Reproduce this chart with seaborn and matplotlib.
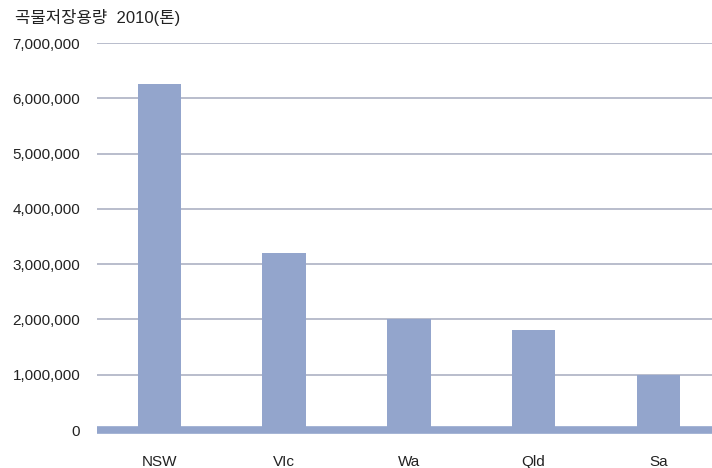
import matplotlib
matplotlib.use("Agg")
import matplotlib.pyplot as plt
import seaborn as sns
import pandas as pd
from matplotlib.ticker import FuncFormatter

categories = ["NSW", "VIc", "Wa", "Qld", "Sa"]
values = [6250000, 3200000, 2000000, 1800000, 1000000]
yticks = [0, 1000000, 2000000, 3000000, 4000000, 5000000, 6000000, 7000000]
title = "곡물저장용량  2010(톤)"

sns.set_style("white")
plt.rcParams['font.family'] = ['Liberation Sans', 'Noto Sans CJK KR', 'DejaVu Sans']

df = pd.DataFrame({"cat": categories, "val": values})
bar_color = "#93a5cc"

fig = plt.figure(figsize=(7.12, 4.68), dpi=100)
ax = fig.add_axes([97/712, 1 - 430/468, 1 - 97/712, (430 - 43)/468])

for y in yticks[1:]:
    ax.axhline(y, color="#b9bdcc", lw=1.4, zorder=0)

sns.barplot(data=df, x="cat", y="val", color=bar_color, width=0.35,
            saturation=1, ax=ax, zorder=2, linewidth=0)
ax.axhline(0, color=bar_color, lw=5.5, zorder=3, solid_capstyle="butt", clip_on=False)

ax.set_xlim(-0.5, 4.43)
ax.set_ylim(0, 7000000)
ax.set_yticks(yticks)
ax.yaxis.set_major_formatter(FuncFormatter(lambda v, p: f"{int(v):,}"))
ax.set_xlabel("")
ax.set_ylabel("")
for s in ax.spines.values():
    s.set_visible(False)
ax.tick_params(axis="y", length=0, pad=12, labelsize=11, colors="#222222")
ax.tick_params(axis="x", length=0, pad=18, labelsize=11, colors="#222222")

fig.text(15/712, 1 - 18/468, title, fontsize=12, color="#222222", va="center", ha="left")

fig.savefig("out.png", dpi=100)
